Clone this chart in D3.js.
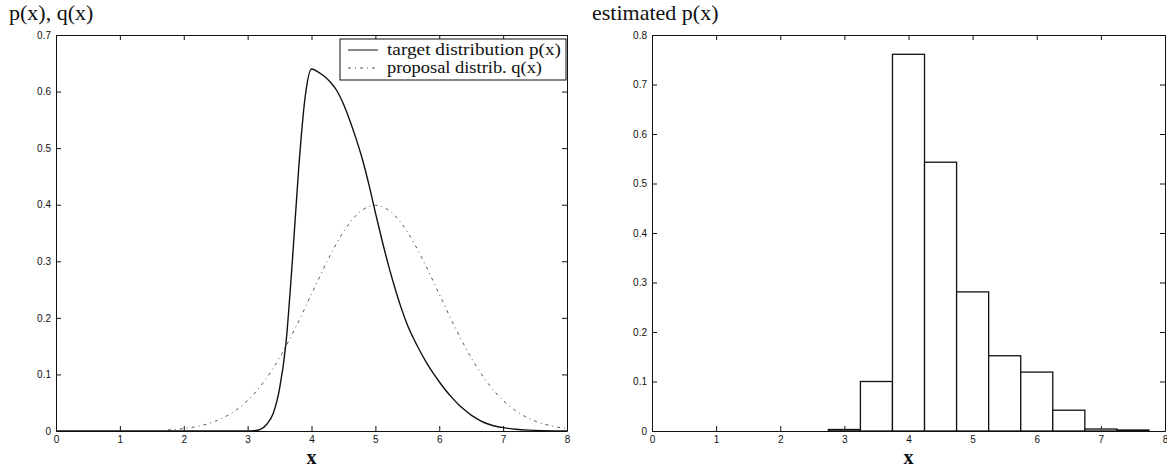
<!DOCTYPE html>
<html>
<head>
<meta charset="utf-8">
<script src="https://cdn.jsdelivr.net/npm/d3@7"></script>
<style>
  body { margin: 0; background: #fff; }
  .tick text { font-family: "Liberation Sans", Arial, sans-serif; font-size: 10px; fill: #111; }
  .axis path, .axis line { stroke: #111; stroke-width: 1; }
  .title { font-family: "Liberation Serif", "Times New Roman", serif; font-size: 22px; fill: #111; }
  .xlabel { font-family: "Liberation Serif", "Times New Roman", serif; font-size: 20px; font-weight: bold; fill: #111; }
  .legend text { font-family: "Liberation Serif", "Times New Roman", serif; font-size: 16px; fill: #111; }
</style>
</head>
<body>
<svg id="chart" width="1167" height="469"></svg>
<script>
// values
const xTicks = [0, 1, 2, 3, 4, 5, 6, 7, 8];
const yTicksLeft = [0, 0.1, 0.2, 0.3, 0.4, 0.5, 0.6, 0.7];
const yTicksRight = [0, 0.1, 0.2, 0.3, 0.4, 0.5, 0.6, 0.7, 0.8];

// target distribution p(x), solid
const targetX = [0, 3.0, 3.1, 3.2, 3.3, 3.4, 3.5, 3.6, 3.7, 3.8, 3.9, 4.0, 4.1, 4.2, 4.3, 4.4, 4.5,
  4.6, 4.7, 4.8, 4.9, 5.0, 5.1, 5.2, 5.3, 5.4, 5.5, 5.6, 5.7, 5.8, 5.9, 6.0, 6.1, 6.2, 6.3, 6.4,
  6.5, 6.6, 6.7, 6.8, 6.9, 7.0, 7.2, 7.4, 7.6, 7.8, 8.0];
const targetP = [0, 0, 0.0005, 0.003, 0.012, 0.031, 0.075, 0.155, 0.30, 0.465, 0.59, 0.64, 0.635,
  0.627, 0.616, 0.601, 0.578, 0.549, 0.516, 0.479, 0.435, 0.386, 0.339, 0.295, 0.255, 0.219, 0.188,
  0.163, 0.141, 0.121, 0.103, 0.087, 0.072, 0.059, 0.047, 0.037, 0.028, 0.021, 0.015, 0.011, 0.008,
  0.006, 0.003, 0.0015, 0.0007, 0.0003, 0.0001];

// proposal distribution q(x), dash-dot
const proposalX = [1.75, 2.0, 2.25, 2.5, 2.75, 3.0, 3.25, 3.5, 3.75, 4.0, 4.25, 4.5, 4.75, 5.0,
  5.25, 5.5, 5.75, 6.0, 6.25, 6.5, 6.75, 7.0, 7.25, 7.5, 7.75, 8.0];
const proposalQ = [0.002, 0.0044, 0.0091, 0.0175, 0.0317, 0.054, 0.0863, 0.1295, 0.1826, 0.242,
  0.3011, 0.3521, 0.3867, 0.3989, 0.3867, 0.3521, 0.3011, 0.242, 0.1826, 0.1295, 0.0863, 0.054,
  0.0317, 0.0175, 0.0091, 0.0044];

// histogram of the estimate
const binCenters = [3.0, 3.5, 4.0, 4.5, 5.0, 5.5, 6.0, 6.5, 7.0, 7.5];
const binHeights = [0.003, 0.1, 0.761, 0.543, 0.281, 0.152, 0.119, 0.042, 0.004, 0.002];
const binWidth = 0.5;

const legendLabels = ["target distribution p(x)", "proposal distrib. q(x)"];

const svg = d3.select("#chart");

function panel(left, right, top, bottom, ymax, yTicks) {
  const x = d3.scaleLinear().domain([0, 8]).range([left, right]);
  const y = d3.scaleLinear().domain([0, ymax]).range([bottom, top]);
  const g = svg.append("g");

  const fmt = d => d === 0 ? "0" : d3.format(".1f")(d);

  g.append("g").attr("class", "axis").attr("transform", "translate(0," + bottom + ")")
    .call(d3.axisBottom(x).tickValues(xTicks).tickSize(-5).tickSizeOuter(0).tickPadding(5).tickFormat(d3.format("d")));
  g.append("g").attr("class", "axis").attr("transform", "translate(0," + top + ")")
    .call(d3.axisTop(x).tickValues(xTicks).tickSize(-5).tickSizeOuter(0).tickFormat(""));
  g.append("g").attr("class", "axis").attr("transform", "translate(" + left + ",0)")
    .call(d3.axisLeft(y).tickValues(yTicks).tickSize(-5).tickSizeOuter(0).tickPadding(5).tickFormat(fmt));
  g.append("g").attr("class", "axis").attr("transform", "translate(" + right + ",0)")
    .call(d3.axisRight(y).tickValues(yTicks).tickSize(-5).tickSizeOuter(0).tickFormat(""));

  g.selectAll(".tick text").attr("fill", "#111");
  return { x, y, g };
}

// left panel: p(x) and q(x)
const L = panel(56, 567, 35, 431, 0.7, yTicksLeft);

const lineP = d3.line().x((d, i) => L.x(targetX[i])).y(d => L.y(d)).curve(d3.curveMonotoneX);
const lineQ = d3.line().x((d, i) => L.x(proposalX[i])).y(d => L.y(d)).curve(d3.curveMonotoneX);

L.g.append("path").attr("d", lineQ(proposalQ))
  .attr("fill", "none").attr("stroke", "#555").attr("stroke-width", 1)
  .attr("stroke-dasharray", "3,4,1,4");
L.g.append("path").attr("d", lineP(targetP))
  .attr("fill", "none").attr("stroke", "#111").attr("stroke-width", 1.4);

// legend
const leg = L.g.append("g").attr("class", "legend");
leg.append("rect").attr("x", 340).attr("y", 39).attr("width", 226).attr("height", 41)
  .attr("fill", "#fff").attr("stroke", "#111").attr("stroke-width", 1);
legendLabels.forEach((t, i) => {
  const cy = 50 + i * 18;
  leg.append("line").attr("x1", 348).attr("x2", 378).attr("y1", cy).attr("y2", cy)
    .attr("stroke", i === 0 ? "#111" : "#555").attr("stroke-width", 1)
    .attr("stroke-dasharray", i === 0 ? null : "3,4,1,4");
  leg.append("text").attr("x", 387).attr("y", cy + 5)
    .attr("textLength", i === 0 ? 174 : 155).attr("lengthAdjust", "spacingAndGlyphs")
    .text(t);
});

svg.append("text").attr("class", "title").attr("x", 9).attr("y", 20).text("p(x), q(x)");
svg.append("text").attr("class", "xlabel").attr("x", L.x(4)).attr("y", 464)
  .attr("text-anchor", "middle").text("x");

// right panel: histogram
const R = panel(652, 1165, 35, 431, 0.8, yTicksRight);

R.g.selectAll("rect.bar")
  .data(binHeights)
  .enter()
  .append("rect")
  .attr("class", "bar")
  .attr("x", (d, i) => R.x(binCenters[i] - binWidth / 2))
  .attr("width", (d, i) => R.x(binCenters[i] + binWidth / 2) - R.x(binCenters[i] - binWidth / 2))
  .attr("y", d => R.y(d))
  .attr("height", d => R.y(0) - R.y(d))
  .attr("fill", "#fff")
  .attr("stroke", "#111")
  .attr("stroke-width", 1.3);

svg.append("text").attr("class", "title").attr("x", 592).attr("y", 20).text("estimated p(x)");
svg.append("text").attr("class", "xlabel").attr("x", R.x(4)).attr("y", 464)
  .attr("text-anchor", "middle").text("x");
</script>
</body>
</html>
